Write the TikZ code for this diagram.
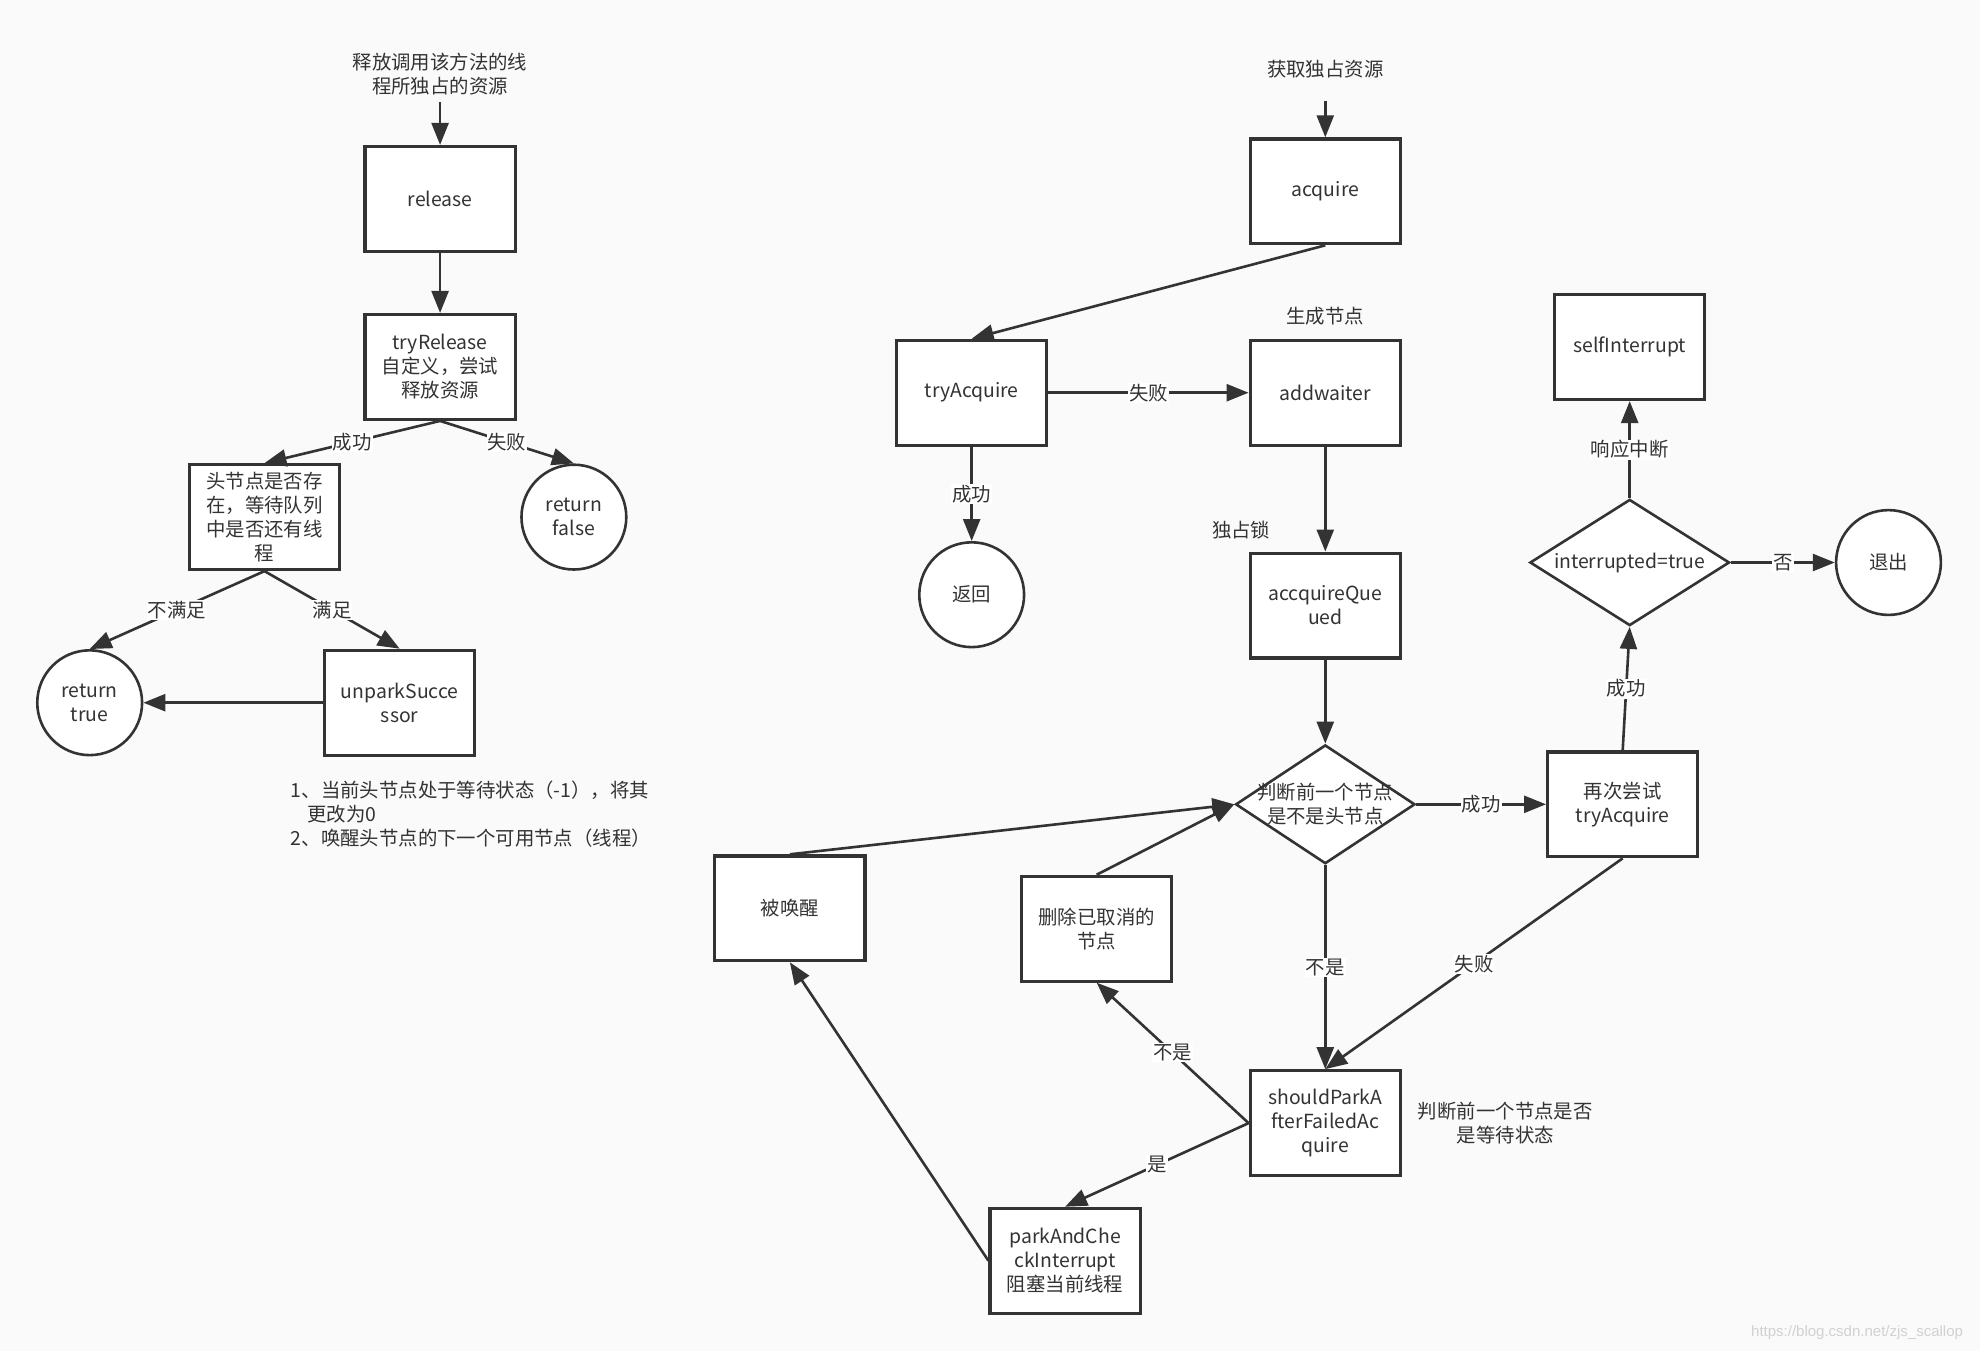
\documentclass[tikz,border=0pt]{standalone}
\usepackage{fontspec}
\setmainfont{Noto Sans CJK SC}
\newfontfamily\wmfont{Liberation Sans}
\usetikzlibrary{shapes.geometric,arrows.meta,positioning}
\definecolor{ink}{HTML}{333333}
\definecolor{paper}{HTML}{FAFAFA}

\begin{document}
\begin{tikzpicture}[
    on grid,
    every node/.style={font=\fontsize{9.7}{12}\selectfont,text=ink},
    proc/.style={rectangle,draw=ink,line width=1.6pt,fill=white,minimum width=75.1pt,minimum height=52.4pt,inner sep=1pt,align=center},
    term/.style={circle,draw=ink,line width=1.3pt,fill=white,minimum size=52.4pt,inner sep=0pt,align=center},
    decision/.style={diamond,draw=ink,line width=1.3pt,fill=white,inner sep=0pt,align=center},
    note/.style={align=center},
    arrow/.style={-{Triangle[length=11pt,width=8.5pt]},draw=ink,line width=1.3pt},
    lbl/.style={fill=white,inner sep=0.5pt}
]

% Canvas
\path[use as bounding box,fill=paper] (0,0) rectangle (990pt,-675.6pt);

% Release flow
\node[proc] (release) at (220.04pt,-99.45pt) {release};
\node[note,above=62.5pt of release] (relnote) {释放调用该方法的线\\程所独占的资源};
\node[proc,below=84pt of release] (tryrelease) {tryRelease\\自定义，尝试\\释放资源};
\node[proc,below left=75.1pt and 87.8pt of tryrelease] (headcheck) {头节点是否存\\在，等待队列\\中是否还有线\\程};
\node[term,below right=75.1pt and 66.9pt of tryrelease] (retfalse) {return\\false};
\node[proc,below right=92.8pt and 67.6pt of headcheck] (unpark) {unparkSucce\\ssor};
\node[term,left=155pt of unpark] (rettrue) {return\\true};
\node[note,below left=38.8pt and 54.6pt of unpark,anchor=north west,align=left,inner sep=0pt] (unparknote)
    {1、当前头节点处于等待状态（-1），将其\\\hspace*{0.85em}更改为0\\2、唤醒头节点的下一个可用节点（线程）};

% Acquire flow
\node[proc,above right=3.8pt and 442.6pt of release] (acquire) {acquire};
\node[note,above=60.9pt of acquire] (acqnote) {获取独占资源};
\node[proc,below=100.7pt of acquire] (addwaiter) {addwaiter};
\node[note,above=38.5pt of addwaiter] (addnote) {生成节点};
\node[proc,left=176.8pt of addwaiter] (tryacquire) {tryAcquire};
\node[term,below=101pt of tryacquire] (back) {返回};
\node[proc,below=106.4pt of addwaiter] (queued) {accquireQue\\ued};
\node[note,above left=37.6pt and 42pt of queued] (locknote) {独占锁};
\node[decision,below=99.4pt of queued,minimum width=89.7pt,minimum height=59.4pt] (ishead)
    {\makebox[0pt]{判断前一个节点}\\\makebox[0pt]{是不是头节点}};
\node[proc,right=148.7pt of ishead] (retry) {再次尝试\\tryAcquire};
\node[decision,above right=120.9pt and 3.5pt of retry,minimum width=99.8pt,minimum height=63.1pt] (interrupted)
    {\makebox[0pt]{interrupted=true}};
\node[proc,above=107.7pt of interrupted] (selfint) {selfInterrupt};
\node[term,right=129.4pt of interrupted] (quit) {退出};

% Park loop
\node[proc,below=159.4pt of ishead] (shouldpark) {shouldParkA\\fterFailedAc\\quire};
\node[note,right=90pt of shouldpark] (parknote) {判断前一个节点是否\\是等待状态};
\node[proc,above left=97.2pt and 114.3pt of shouldpark] (cancel) {删除已取消的\\节点};
\node[proc,below left=68.8pt and 130.1pt of shouldpark] (parkcheck) {parkAndChe\\ckInterrupt\\阻塞当前线程};
\node[proc,above left=176.2pt and 137.6pt of parkcheck] (woken) {被唤醒};

% Watermark
\node[text=black!18,font=\wmfont\fontsize{7.5}{9}\selectfont,anchor=east] (wm) at (985pt,-666.5pt) {https://blog.csdn.net/zjs\_scallop};

% Release connections
\draw[arrow] (relnote) -- (release);
\draw[arrow] (release) -- (tryrelease);
\draw[arrow] (tryrelease.south) -- node[lbl] {成功} (headcheck.north);
\draw[arrow] (tryrelease.south) -- node[lbl] {失败} (retfalse.north);
\draw[arrow] (headcheck.south) -- node[lbl] {不满足} (rettrue.north);
\draw[arrow] (headcheck.south) -- node[lbl] {满足} (unpark.north);
\draw[arrow] (unpark) -- (rettrue);

% Acquire connections
\draw[arrow,shorten <=7.5pt] (acqnote) -- (acquire);
\draw[arrow] (acquire.south) -- (tryacquire.north);
\draw[arrow] (tryacquire) -- node[lbl] {失败} (addwaiter);
\draw[arrow] (tryacquire) -- node[lbl] {成功} (back);
\draw[arrow] (addwaiter) -- (queued);
\draw[arrow] (queued) -- (ishead);
\draw[arrow] (ishead) -- node[lbl] {成功} (retry);
\draw[arrow] (retry.north) -- node[lbl] {成功} (interrupted.south);
\draw[arrow] (interrupted) -- node[lbl] {响应中断} (selfint);
\draw[arrow] (interrupted) -- node[lbl] {否} (quit);
\draw[arrow] (ishead) -- node[lbl] {不是} (shouldpark);
\draw[arrow] (retry.south) -- node[lbl] {失败} (shouldpark.north);

% Park loop connections
\draw[arrow] (shouldpark.west) -- node[lbl] {不是} (cancel.south);
\draw[arrow] (shouldpark.west) -- node[lbl] {是} (parkcheck.north);
\draw[arrow] (parkcheck.west) -- (woken.south);
\draw[arrow] (woken.north) -- (ishead.west);
\draw[arrow] (cancel.north) -- (ishead.west);

\end{tikzpicture}
\end{document}
